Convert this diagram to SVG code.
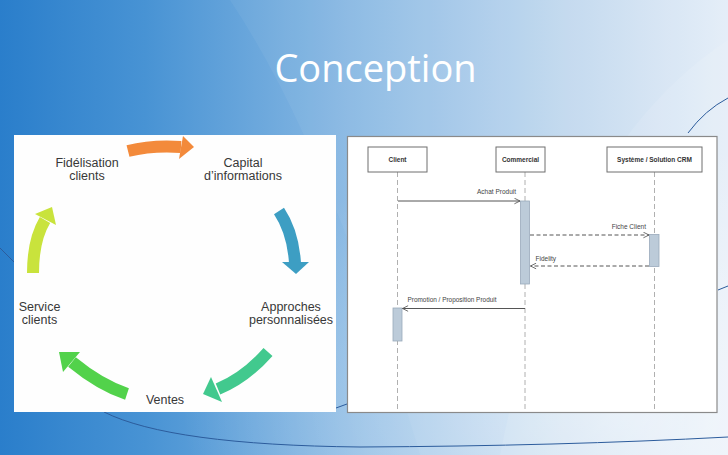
<svg xmlns="http://www.w3.org/2000/svg" width="728" height="455" viewBox="0 0 728 455">
<defs>
<linearGradient id="bg" x1="0" y1="0" x2="1" y2="0">
<stop offset="0" stop-color="#2a7ecb"/>
<stop offset="0.2" stop-color="#4893d4"/>
<stop offset="0.5" stop-color="#8dbbe4"/>
<stop offset="0.78" stop-color="#c2d9ef"/>
<stop offset="1" stop-color="#e4edf8"/>
</linearGradient>
<radialGradient id="glow" cx="0.85" cy="0.9" r="0.6">
<stop offset="0" stop-color="#ffffff" stop-opacity="0.5"/>
<stop offset="1" stop-color="#ffffff" stop-opacity="0"/>
</radialGradient>
<marker id="open" viewBox="0 0 10 10" refX="9" refY="5" markerWidth="7" markerHeight="7" orient="auto-start-reverse" markerUnits="userSpaceOnUse">
<path d="M1,1 L9,5 L1,9" fill="none" stroke="#555" stroke-width="1.2"/>
</marker>
<style>
.lbl{font-family:"Liberation Sans",Arial,sans-serif;font-size:12.5px;fill:#383838;text-anchor:middle}
.box{fill:#ffffff;stroke:#6f6f6f;stroke-width:1}
.btxt{font-family:"Liberation Sans",Arial,sans-serif;font-size:6.5px;font-weight:bold;fill:#333;text-anchor:middle}
.life{stroke:#b0b0b0;stroke-width:1;stroke-dasharray:5,3;fill:none}
.act{fill:#bccbd9;stroke:#9aaabb;stroke-width:0.8}
.msg{stroke:#555;stroke-width:1;fill:none;marker-end:url(#open)}
.dash{stroke-dasharray:4,2.5}
.mtxt{font-family:"Liberation Sans",Arial,sans-serif;font-size:6.5px;fill:#444}
.deco{stroke:#2c5c9c;stroke-width:1;fill:none}
.body{fill:none;stroke-width:12}
</style>
</defs>

<g id="background">
<rect x="0" y="0" width="728" height="455" fill="url(#bg)"/>
<path d="M230,0 Q330,150 420,455 L728,455 L728,0 Z" fill="#ffffff" opacity="0.05"/>
<path d="M500,455 Q560,150 728,40 L728,455 Z" fill="#ffffff" opacity="0.1"/>
<rect x="0" y="0" width="728" height="455" fill="url(#glow)"/>
<path class="deco" d="M104,412 Q170,445 360,447 Q560,446 728,437"/>
<path class="deco" d="M688,133 Q705,110 728,98"/>
<path class="deco" d="M718,290 L728,286"/>
<path class="deco" d="M336,408 L347,404"/>
<path class="deco" d="M0,248 L14,262"/>
</g>

<text id="title" x="375.5" y="82" font-family="'Open Sans','Noto Sans',sans-serif" font-size="38" fill="#ffffff" text-anchor="middle">Conception</text>

<g id="cycle-panel">
<rect x="14" y="135" width="322" height="277" fill="#fefefe"/>
</g>

<g id="cycle-arrows">
<g id="arrow-orange" fill="#f38a3b" stroke="#f38a3b">
<path class="body" d="M128,151 Q152,145 181,147"/>
<polygon stroke="none" points="183,136 194,147 179,159"/>
</g>
<g id="arrow-blue" fill="#3d9ec3" stroke="#3d9ec3">
<path class="body" d="M279,211 Q293,232 295,263"/>
<polygon stroke="none" points="282,262 309,262 296,274"/>
</g>
<g id="arrow-teal" fill="#42c98e" stroke="#42c98e">
<path class="body" d="M268,352 Q245,378 218,389"/>
<polygon stroke="none" points="211,377 222,402 203,394"/>
</g>
<g id="arrow-green" fill="#52d24b" stroke="#52d24b">
<path class="body" d="M127,394 Q100,385 72,362"/>
<polygon stroke="none" points="80,352 63,372 59,352"/>
</g>
<g id="arrow-yellow" fill="#c9e33c" stroke="#c9e33c">
<path class="body" d="M33,273 Q33,240 45,220"/>
<polygon stroke="none" points="35,214 56,225 52,207"/>
</g>
</g>

<g id="node-fidelisation"><text class="lbl" x="87" y="166.5">Fidélisation</text><text class="lbl" x="87" y="180">clients</text></g>
<g id="node-capital"><text class="lbl" x="243" y="166.5">Capital</text><text class="lbl" x="243" y="180">d’informations</text></g>
<g id="node-approches"><text class="lbl" x="291" y="311">Approches</text><text class="lbl" x="291" y="324">personnalisées</text></g>
<g id="node-ventes"><text class="lbl" x="165" y="404">Ventes</text></g>
<g id="node-service"><text class="lbl" x="39.5" y="311">Service</text><text class="lbl" x="39.5" y="324">clients</text></g>

<g id="seq-panel">
<rect x="347.5" y="136.5" width="369.5" height="276" fill="#ffffff" stroke="#8a8a8a" stroke-width="1.2"/>
</g>

<g id="lifelines">
<line class="life" x1="397.5" y1="172" x2="397.5" y2="412"/>
<line class="life" x1="525" y1="172" x2="525" y2="412"/>
<line class="life" x1="654.5" y1="172" x2="654.5" y2="412"/>
</g>

<g id="actor-client"><rect class="box" x="368" y="147" width="59" height="25"/><text class="btxt" x="397.5" y="162">Client</text></g>
<g id="actor-commercial"><rect class="box" x="496" y="147" width="49" height="25"/><text class="btxt" x="520.5" y="162">Commercial</text></g>
<g id="actor-crm"><rect class="box" x="607" y="147" width="95" height="25"/><text class="btxt" x="654.5" y="162">Système / Solution CRM</text></g>

<g id="activations">
<rect class="act" x="520.5" y="201" width="9" height="83"/>
<rect class="act" x="649.5" y="234.5" width="9.5" height="32"/>
<rect class="act" x="393" y="308" width="9" height="33"/>
</g>

<g id="messages">
<line class="msg" x1="398" y1="201" x2="520" y2="201"/>
<line class="msg dash" x1="530" y1="235" x2="649" y2="235"/>
<line class="msg dash" x1="649" y1="266" x2="530.5" y2="266"/>
<line class="msg" x1="525" y1="308.5" x2="402.5" y2="308.5"/>
<text class="mtxt" x="516" y="194" text-anchor="end">Achat Produit</text>
<text class="mtxt" x="646" y="229" text-anchor="end">Fiche Client</text>
<text class="mtxt" x="535.5" y="260.5">Fidelity</text>
<text class="mtxt" x="407.5" y="302" textLength="89" lengthAdjust="spacingAndGlyphs">Promotion / Proposition Produit</text>
</g>
</svg>
